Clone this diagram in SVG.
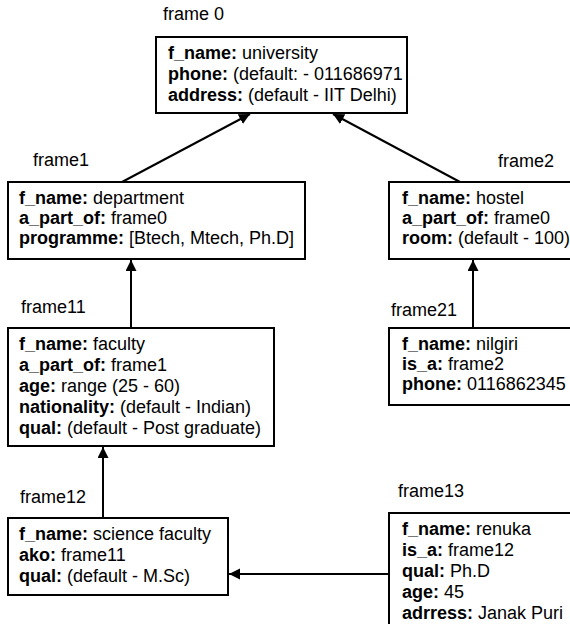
<svg xmlns="http://www.w3.org/2000/svg" width="570" height="624" viewBox="0 0 570 624">
  <style>
    text { font-family: "Liberation Sans", Arial, sans-serif; font-size: 18px; fill: #000; }
    .k { font-weight: bold; }
    .box { fill: #fff; stroke: #000; stroke-width: 2; }
    .link { fill: none; stroke: #000; stroke-width: 2; marker-end: url(#tip); }
  </style>
  <defs>
    <marker id="tip" markerUnits="userSpaceOnUse" markerWidth="12" markerHeight="12" refX="11" refY="5.5" orient="auto">
      <path d="M0,0 L11,5.5 L0,11 z" fill="#000"/>
    </marker>
  </defs>
  <rect width="570" height="624" fill="#fff"/>

  <!-- inheritance links -->
  <g id="connectors">
    <line class="link" x1="122" y1="182" x2="250" y2="114"/>
    <line class="link" x1="460" y1="182" x2="333" y2="114"/>
    <line class="link" x1="131" y1="328" x2="131" y2="260"/>
    <line class="link" x1="473" y1="328" x2="473" y2="260"/>
    <line class="link" x1="103" y1="518" x2="103" y2="447"/>
    <line class="link" x1="389" y1="574" x2="229" y2="574"/>
  </g>

  <g id="frame0">
    <text x="163" y="20">frame 0</text>
    <rect class="box" x="156" y="37" width="251" height="76"/>
    <text x="168" y="59"><tspan class="k">f_name:</tspan> university</text>
    <text x="168" y="80"><tspan class="k">phone:</tspan> (default: - 011686971</text>
    <text x="168" y="101"><tspan class="k">address:</tspan> (default - IIT Delhi)</text>
  </g>

  <g id="frame1">
    <text x="33" y="166">frame1</text>
    <rect class="box" x="8" y="182" width="297" height="77"/>
    <text x="19" y="204"><tspan class="k">f_name:</tspan> department</text>
    <text x="19" y="224"><tspan class="k">a_part_of:</tspan> frame0</text>
    <text x="19" y="244"><tspan class="k">programme:</tspan> [Btech, Mtech, Ph.D]</text>
  </g>

  <g id="frame2">
    <text x="498" y="167">frame2</text>
    <rect class="box" x="389" y="182" width="200" height="77"/>
    <text x="402" y="204"><tspan class="k">f_name:</tspan> hostel</text>
    <text x="402" y="224"><tspan class="k">a_part_of:</tspan> frame0</text>
    <text x="402" y="244"><tspan class="k">room:</tspan> (default - 100)</text>
  </g>

  <g id="frame11">
    <text x="21" y="313">frame11</text>
    <rect class="box" x="8" y="328" width="266" height="118"/>
    <text x="19" y="350"><tspan class="k">f_name:</tspan> faculty</text>
    <text x="19" y="371"><tspan class="k">a_part_of:</tspan> frame1</text>
    <text x="19" y="392"><tspan class="k">age:</tspan> range (25 - 60)</text>
    <text x="19" y="413"><tspan class="k">nationality:</tspan> (default - Indian)</text>
    <text x="19" y="434"><tspan class="k">qual:</tspan> (default - Post graduate)</text>
  </g>

  <g id="frame21">
    <text x="391" y="316">frame21</text>
    <rect class="box" x="389" y="328" width="200" height="77"/>
    <text x="402" y="350"><tspan class="k">f_name:</tspan> nilgiri</text>
    <text x="402" y="370"><tspan class="k">is_a:</tspan> frame2</text>
    <text x="402" y="390"><tspan class="k">phone:</tspan> 0116862345</text>
  </g>

  <g id="frame12">
    <text x="20" y="503">frame12</text>
    <rect class="box" x="8" y="518" width="220" height="77"/>
    <text x="19" y="540"><tspan class="k">f_name:</tspan> science faculty</text>
    <text x="19" y="561"><tspan class="k">ako:</tspan> frame11</text>
    <text x="19" y="582"><tspan class="k">qual:</tspan> (default - M.Sc)</text>
  </g>

  <g id="frame13">
    <text x="398" y="497">frame13</text>
    <rect class="box" x="389" y="513" width="200" height="130"/>
    <text x="402" y="535"><tspan class="k">f_name:</tspan> renuka</text>
    <text x="402" y="556"><tspan class="k">is_a:</tspan> frame12</text>
    <text x="402" y="577"><tspan class="k">qual:</tspan> Ph.D</text>
    <text x="402" y="598"><tspan class="k">age:</tspan> 45</text>
    <text x="402" y="619"><tspan class="k">adrress:</tspan> Janak Puri</text>
  </g>
</svg>
